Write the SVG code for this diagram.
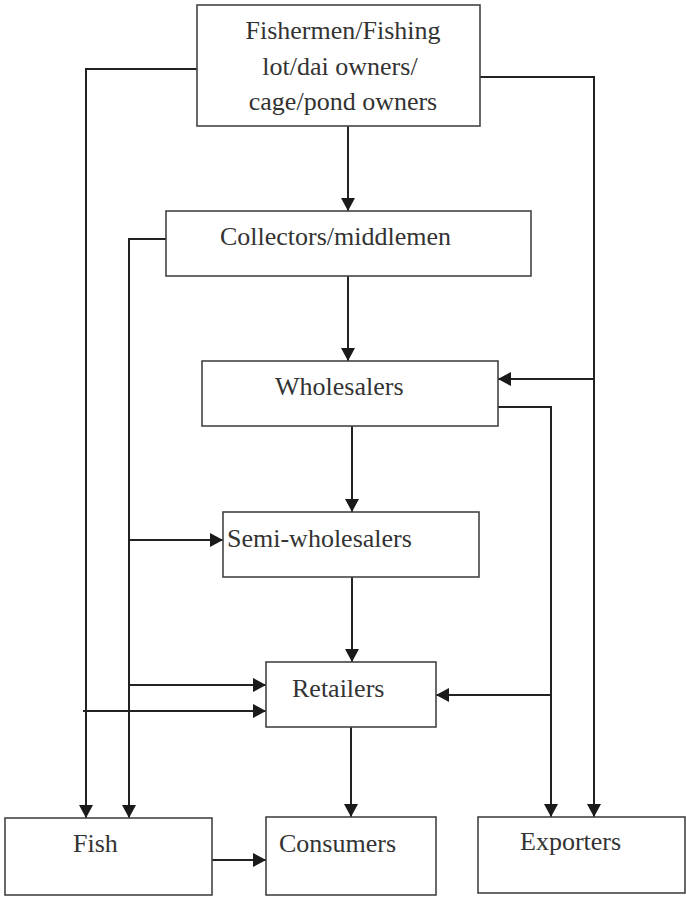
<svg xmlns="http://www.w3.org/2000/svg" width="686" height="898" viewBox="0 0 686 898">
<defs>
<style>
.box{fill:#fff;stroke:#444;stroke-width:1.6}
.lbl{font-family:"Liberation Serif","Times New Roman",serif;font-size:26px;fill:#333}
.con{fill:none;stroke:#222;stroke-width:2}
</style>
<marker id="ah" markerUnits="userSpaceOnUse" markerWidth="14" markerHeight="14" refX="13" refY="7" orient="auto">
<path d="M0,0 L13,7 L0,14 Z" fill="#1a1a1a"/>
</marker>
</defs>
<rect width="686" height="898" fill="#fff"/>
<g id="connectors">
<path class="con" d="M348,126 V211" marker-end="url(#ah)"/>
<path class="con" d="M348,276 V361" marker-end="url(#ah)"/>
<path class="con" d="M352,426 V512" marker-end="url(#ah)"/>
<path class="con" d="M352,577 V662" marker-end="url(#ah)"/>
<path class="con" d="M351,727 V817" marker-end="url(#ah)"/>
<path class="con" d="M197,69 H86 V818" marker-end="url(#ah)"/>
<path class="con" d="M166,239 H129 V818" marker-end="url(#ah)"/>
<path class="con" d="M480,77 H594 V817" marker-end="url(#ah)"/>
<path class="con" d="M594,379 H498" marker-end="url(#ah)"/>
<path class="con" d="M498,407 H551 V817" marker-end="url(#ah)"/>
<path class="con" d="M551,695 H436" marker-end="url(#ah)"/>
<path class="con" d="M129,540 H223" marker-end="url(#ah)"/>
<path class="con" d="M129,685 H266" marker-end="url(#ah)"/>
<path class="con" d="M83,711 H266" marker-end="url(#ah)"/>
<path class="con" d="M212,860 H266" marker-end="url(#ah)"/>
</g>
<g id="fishermen">
<rect class="box" x="197" y="5" width="283" height="121"/>
<text class="lbl" x="343" y="39" text-anchor="middle">Fishermen/Fishing</text>
<text class="lbl" x="340" y="75" text-anchor="middle">lot/dai owners/</text>
<text class="lbl" x="343" y="110" text-anchor="middle">cage/pond owners</text>
</g>
<g id="collectors">
<rect class="box" x="166" y="211" width="365" height="65"/>
<text class="lbl" x="220" y="245">Collectors/middlemen</text>
</g>
<g id="wholesalers">
<rect class="box" x="202" y="361" width="296" height="65"/>
<text class="lbl" x="275" y="395">Wholesalers</text>
</g>
<g id="semi-wholesalers">
<rect class="box" x="223" y="512" width="256" height="65"/>
<text class="lbl" x="227" y="547">Semi-wholesalers</text>
</g>
<g id="retailers">
<rect class="box" x="266" y="662" width="170" height="65"/>
<text class="lbl" x="292" y="697">Retailers</text>
</g>
<g id="fish">
<rect class="box" x="5" y="818" width="207" height="77"/>
<text class="lbl" x="73" y="852">Fish</text>
</g>
<g id="consumers">
<rect class="box" x="266" y="817" width="170" height="78"/>
<text class="lbl" x="279" y="852">Consumers</text>
</g>
<g id="exporters">
<rect class="box" x="478" y="817" width="207" height="76"/>
<text class="lbl" x="520" y="850">Exporters</text>
</g>
</svg>
